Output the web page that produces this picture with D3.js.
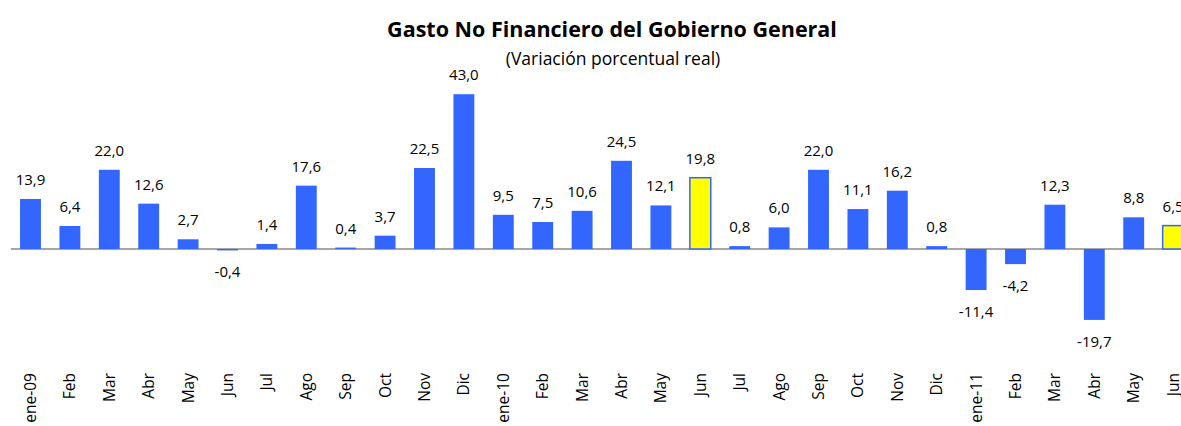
<!DOCTYPE html>
<html><head><meta charset="utf-8">
<script src="https://cdn.jsdelivr.net/npm/d3@7"></script>
<style>
html,body{margin:0;padding:0;background:#fff;overflow:hidden}
text{font-family:"Open Sans",sans-serif;fill:#000}
</style></head><body>
<svg id="c" width="1181" height="426"></svg>
<script>
const categories = ["ene-09","Feb","Mar","Abr","May","Jun","Jul","Ago","Sep","Oct","Nov","Dic",
  "ene-10","Feb","Mar","Abr","May","Jun","Jul","Ago","Sep","Oct","Nov","Dic",
  "ene-11","Feb","Mar","Abr","May","Jun"];
const values = [13.9,6.4,22.0,12.6,2.7,-0.4,1.4,17.6,0.4,3.7,22.5,43.0,
  9.5,7.5,10.6,24.5,12.1,19.8,0.8,6.0,22.0,11.1,16.2,0.8,
  -11.4,-4.2,12.3,-19.7,8.8,6.5];
const highlighted = [17, 29];
const title = "Gasto No Financiero del Gobierno General";
const subtitle = "(Variación porcentual real)";

const svg = d3.select("#c");
const idx = d3.range(categories.length);
const x = d3.scaleBand().domain(idx).range([10.8, 1192.8]).paddingInner(0.47).paddingOuter(0.235);
const y = d3.scaleLinear().domain([-20, 45]).range([321, 87]);
const fmt = v => v.toFixed(1).replace(".", ",");

svg.append("text").attr("x", 612).attr("y", 37).attr("text-anchor", "middle")
  .style("font-size", "21.5px").style("font-weight", "bold").text(title);
svg.append("text").attr("x", 613).attr("y", 65).attr("text-anchor", "middle")
  .style("font-size", "17.5px").text(subtitle);

svg.append("line").attr("x1", 10.8).attr("x2", 1192.8)
  .attr("y1", y(0)).attr("y2", y(0)).attr("stroke", "#a6a6a6").attr("stroke-width", 2);

svg.append("g").selectAll("rect").data(idx).join("rect")
  .attr("x", i => x(i)).attr("width", x.bandwidth())
  .attr("y", i => y(Math.max(0, values[i])))
  .attr("height", i => Math.abs(y(values[i]) - y(0)))
  .attr("fill", i => highlighted.includes(i) ? "#ffff00" : "#3366ff")
  .attr("stroke", i => highlighted.includes(i) ? "#3366ff" : "none")
  .attr("stroke-width", 1.5);

svg.append("g").selectAll("text").data(idx).join("text")
  .attr("x", i => x(i) + x.bandwidth() / 2)
  .attr("y", i => values[i] >= 0 ? y(values[i]) - 14 : y(values[i]) + 27)
  .attr("text-anchor", "middle").style("font-size", "15px")
  .text(i => fmt(values[i]));

const ax = svg.append("g").attr("transform", "translate(0,373)")
  .call(d3.axisBottom(x).tickSize(0).tickFormat(i => categories[i]));
ax.select(".domain").remove();
ax.selectAll("text").attr("transform", "rotate(-90)").attr("x", 0).attr("y", 0)
  .attr("dy", "0.35em").attr("text-anchor", "end")
  .style("font-size", "15.5px").style("font-family", "'Open Sans',sans-serif").attr("fill", "#000");
</script></body></html>
